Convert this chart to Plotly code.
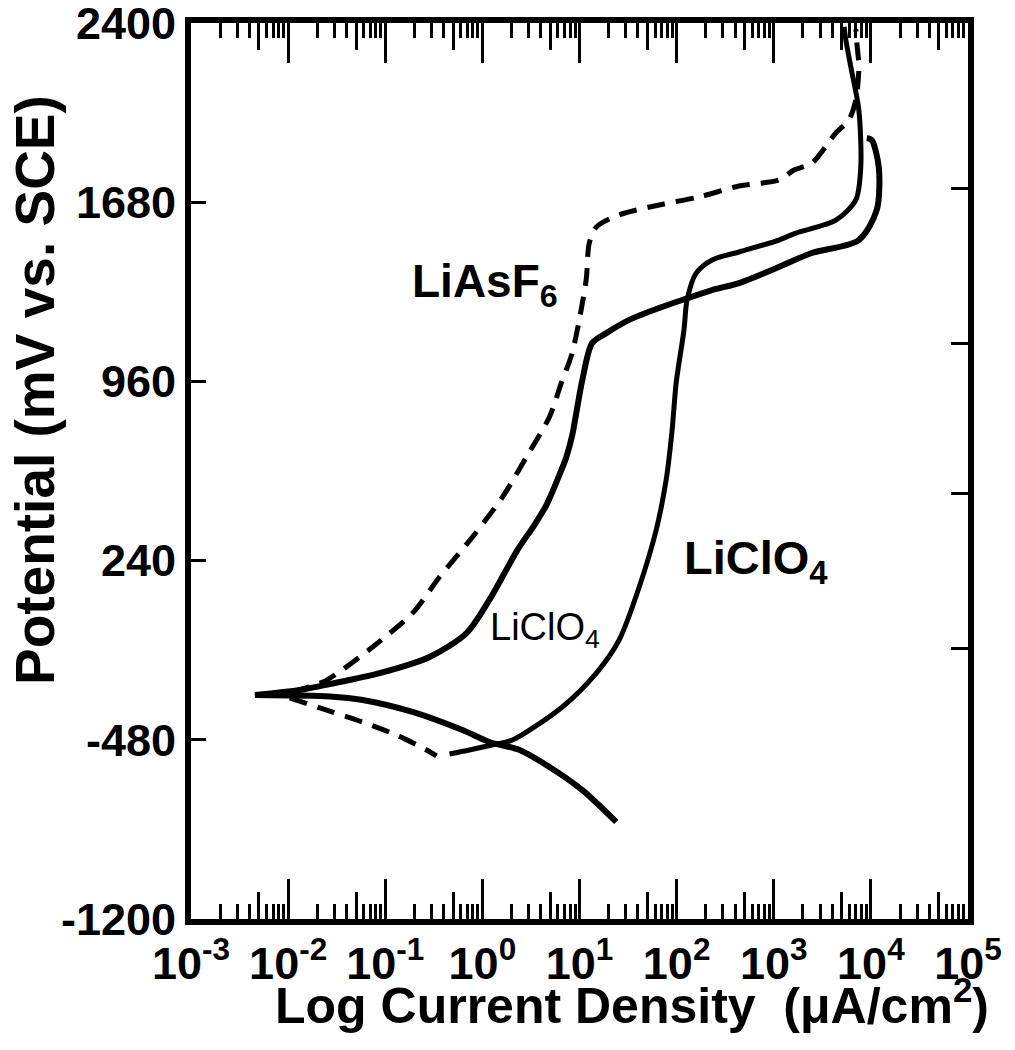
import plotly.graph_objects as go

# ---- Polarization data: current density (uA/cm^2) vs potential (mV vs. SCE) ----

# LiAsF6, anodic branch (dashed)
asf6_an_i = [0.0109, 0.0228, 0.0383, 0.0741, 0.191, 0.362, 0.791, 1.61, 2.84, 4.9, 6.5, 8.4,
             11.7, 12.6, 14.9, 25.6, 66, 170, 439, 1130, 1615, 2470, 4360, 5930, 7000, 7520, 7170, 7000]
asf6_an_e = [-288, -248, -192, -107, 29, 174, 335, 495, 656, 817, 954, 1074,
             1367, 1516, 1580, 1629, 1669, 1701, 1745, 1769, 1809, 1837, 1958, 2010, 2091, 2223, 2320, 2375]

# LiAsF6, cathodic branch (dashed)
asf6_ca_i = [0.0104, 0.0212, 0.0586, 0.131, 0.266, 0.337]
asf6_ca_e = [-312, -352, -409, -461, -521, -545]

# LiClO4 (lower-current curve), anodic branch
clo4a_an_i = [0.00455, 0.0132, 0.0269, 0.0875, 0.286, 0.687, 1.18, 2.30, 3.43, 4.56, 5.92, 7.31,
              8.43, 9.27, 10.7, 13.5, 18.9, 32.5, 66.1, 114, 232, 439, 1130, 2470, 7520,
              11500, 12060, 10200, 9080]
clo4a_an_e = [-300, -280, -256, -212, -147, -51, 82, 283, 383, 463, 564, 655,
              745, 833, 966, 1114, 1154, 1207, 1255, 1287, 1327, 1355, 1420, 1476, 1528,
              1649, 1821, 1930, 1938]

# LiClO4 (lower-current curve), cathodic branch
clo4a_ca_i = [0.00455, 0.0269, 0.0586, 0.191, 0.624, 1.18, 2.41, 4.9, 10.7, 23.9]
clo4a_ca_e = [-300, -306, -320, -368, -441, -489, -521, -589, -682, -810]

# LiClO4 (higher-current curve)
clo4b_i = [0.459, 0.736, 1.40, 2.04, 6.65, 14.9, 25.6, 41.2, 61.6, 78, 89.9, 98.9, 119, 128,
           159, 232, 439, 1130, 1690, 4360, 7000, 7870, 7520, 6220, 5520, 5300]
clo4b_e = [-537, -521, -497, -481, -348, -212, -79, 134, 363, 564, 765, 954, 1166, 1287,
           1395, 1448, 1480, 1528, 1556, 1608, 1689, 1821, 2050, 2223, 2332, 2385]

# Axis ticks
x_decades = [-3, -2, -1, 0, 1, 2, 3, 4, 5]
y_ticks = [-1200, -480, 240, 960, 1680, 2400]
y_right_ticks = [1737, 1114, 508, -115]

FONT = "Liberation Sans, Arial, Helvetica, sans-serif"

fig = go.Figure()

solid = dict(color="black", width=6, shape="spline", smoothing=0.8)
dashed = dict(color="black", width=5, dash="18px,11px", shape="spline", smoothing=0.8)

fig.add_trace(go.Scatter(x=asf6_an_i, y=asf6_an_e, mode="lines", line=dashed))
fig.add_trace(go.Scatter(x=asf6_ca_i, y=asf6_ca_e, mode="lines", line=dashed))
fig.add_trace(go.Scatter(x=clo4a_an_i, y=clo4a_an_e, mode="lines", line=solid))
fig.add_trace(go.Scatter(x=clo4a_ca_i, y=clo4a_ca_e, mode="lines", line=solid))
fig.add_trace(go.Scatter(x=clo4b_i, y=clo4b_e, mode="lines",
                         line=dict(color="black", width=5, shape="spline", smoothing=0.8)))

# empty traces so the auxiliary tick axes get drawn
fig.add_trace(go.Scatter(x=[], y=[], xaxis="x2", yaxis="y", hoverinfo="skip"))
fig.add_trace(go.Scatter(x=[], y=[], xaxis="x", yaxis="y2", hoverinfo="skip"))

tickfont = dict(family=FONT, size=45, color="black", weight="bold")

fig.update_layout(
    width=1015, height=1050,
    margin=dict(l=191, r=47, t=23, b=131, autoexpand=False),
    plot_bgcolor="white", paper_bgcolor="white",
    showlegend=False,
    font=dict(family=FONT, color="black"),
    xaxis=dict(
        type="log", range=[-3, 5], automargin=False, ticklabeloverflow="allow",
        tickmode="array",
        tickvals=[10 ** k for k in x_decades],
        ticktext=[f"10<sup>{k}</sup>" for k in x_decades],
        ticks="inside", ticklen=40, tickwidth=3, tickcolor="black",
        showline=True, linewidth=6, linecolor="black", mirror="ticks",
        showgrid=False, zeroline=False,
        tickfont=tickfont,
        minor=dict(
            tickmode="array",
            tickvals=[m * 10 ** k for k in x_decades[:-1] for m in (2, 3, 4, 6, 7, 8, 9)],
            ticks="inside", ticklen=15, tickwidth=2.5, tickcolor="black", showgrid=False,
        ),
    ),
    xaxis2=dict(
        type="log", range=[-3, 5], overlaying="x", anchor="y", side="bottom", automargin=False,
        tickmode="array", tickvals=[5 * 10 ** k for k in x_decades[:-1]],
        ticks="inside", ticklen=27, tickwidth=2.5, tickcolor="black",
        showticklabels=False, showline=False, mirror="ticks",
        showgrid=False, zeroline=False,
    ),
    yaxis=dict(
        range=[-1200, 2400], automargin=False, ticklabeloverflow="allow",
        tickmode="array", tickvals=y_ticks, ticktext=[str(v) for v in y_ticks],
        ticks="inside", ticklen=15, tickwidth=3, tickcolor="black",
        showline=True, linewidth=6, linecolor="black", mirror=False,
        showgrid=False, zeroline=False,
        tickfont=tickfont,
    ),
    yaxis2=dict(
        range=[-1200, 2400], overlaying="y", anchor="x", side="right", automargin=False,
        tickmode="array", tickvals=y_right_ticks,
        ticks="inside", ticklen=17, tickwidth=3, tickcolor="black",
        showticklabels=False, showline=True, linewidth=6, linecolor="black",
        showgrid=False, zeroline=False,
    ),
)

# Curve labels
fig.add_annotation(x=-0.75, y=1350, xref="x", yref="y", text="LiAsF<sub>6</sub>",
                   showarrow=False, xanchor="left", yanchor="middle",
                   font=dict(family=FONT, size=46, color="black", weight="bold"))
fig.add_annotation(x=2.06, y=240, xref="x", yref="y", text="LiClO<sub>4</sub>",
                   showarrow=False, xanchor="left", yanchor="middle",
                   font=dict(family=FONT, size=47, color="black", weight="bold"))
fig.add_annotation(x=0.06, y=-39, xref="x", yref="y", text="LiClO<sub>4</sub>",
                   showarrow=False, xanchor="left", yanchor="middle",
                   font=dict(family=FONT, size=38, color="black"))

# Axis titles
fig.add_annotation(x=(632 - 191) / 777, y=-(1002 - 919) / 896, xref="paper", yref="paper",
                   text="Log Current Density  (\u03bcA/cm<sup>2</sup>)",
                   showarrow=False, xanchor="center", yanchor="middle",
                   font=dict(family=FONT, size=50, color="black", weight="bold"))
fig.add_annotation(x=-(191 - 35) / 777, y=(919 - 390) / 896, xref="paper", yref="paper",
                   text="Potential (mV vs. SCE)", textangle=-90,
                   showarrow=False, xanchor="center", yanchor="middle",
                   font=dict(family=FONT, size=55, color="black", weight="bold"))

fig.write_html("out.html")
